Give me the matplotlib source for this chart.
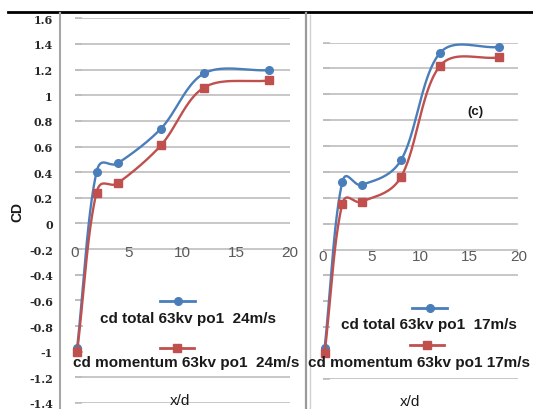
import matplotlib.pyplot as plt
import numpy as np
from matplotlib.lines import Line2D
from matplotlib.patches import Rectangle

# data
x_d = [0.2, 2, 4, 8, 12, 18]
cd_total_24 = [-0.97, 0.40, 0.47, 0.74, 1.17, 1.195]
cd_mom_24 = [-1.0, 0.24, 0.315, 0.61, 1.06, 1.115]
cd_total_17 = [-0.96, 0.32, 0.30, 0.49, 1.32, 1.365]
cd_mom_17 = [-1.0, 0.15, 0.17, 0.36, 1.22, 1.285]

x_ticks = [0, 5, 10, 15, 20]
y_ticks = [1.6, 1.4, 1.2, 1, 0.8, 0.6, 0.4, 0.2, 0, -0.2, -0.4, -0.6,
           -0.8, -1, -1.2, -1.4]
y_tick_labels = ['1.6', '1.4', '1.2', '1', '0.8', '0.6', '0.4', '0.2', '0',
                 '-0.2', '-0.4', '-0.6', '-0.8', '-1', '-1.2', '-1.4']

lab_total_24 = 'cd total 63kv po1  24m/s'
lab_mom_24 = 'cd momentum 63kv po1  24m/s'
lab_total_17 = 'cd total 63kv po1  17m/s'
lab_mom_17 = 'cd momentum 63kv po1 17m/s'

BLUE = '#4A7EBB'
RED = '#C0504D'
GRID = '#BDBDBD'
W, H = 533, 410


def smooth(xs, ys, kx, ky, n=40):
    # smoothed line through the points, worked out in pixel units
    p = np.column_stack([np.asarray(xs) * kx, np.asarray(ys) * ky]).astype(float)
    m = len(p)
    d = np.linalg.norm(np.diff(p, axis=0), axis=1)
    out = []
    for i in range(m - 1):
        p1, p2 = p[i], p[i + 1]
        if i > 0:
            f = 0.5 / 6 + 0.5 * d[i] / (d[i - 1] + d[i]) / 3
            t1 = (p2 - p[i - 1]) * f
        else:
            t1 = (p2 - p1) / 3
        if i < m - 2:
            f = 0.5 / 6 + 0.5 * d[i] / (d[i] + d[i + 1]) / 3
            t2 = (p[i + 2] - p1) * f
        else:
            t2 = (p2 - p1) / 3
        c1 = p1 + t1
        c2 = p2 - t2
        t = np.linspace(0, 1, n)[:, None]
        seg = ((1 - t) ** 3 * p1 + 3 * (1 - t) ** 2 * t * c1
               + 3 * (1 - t) * t ** 2 * c2 + t ** 3 * p2)
        out.append(seg)
    c = np.vstack(out)
    return c[:, 0] / kx, c[:, 1] / ky


def fx(px):
    return px / W


def fy(py):
    return 1 - py / H


plt.rcParams['font.family'] = ['Liberation Sans', 'DejaVu Sans']
fig = plt.figure(figsize=(W / 100, H / 100), dpi=100)

ax1 = fig.add_axes([fx(75), fy(404), (290 - 75) / W, (404 - 19.3) / H])
ax2 = fig.add_axes([fx(322.7), fy(380), (518.3 - 322.7) / W, (380 - 43.5) / H])


def setup(ax, ylo, yhi, xlab_y, box):
    ax.set_xlim(0, 20)
    ax.set_ylim(ylo, yhi)
    for s in ax.spines.values():
        s.set_visible(False)
    ax.set_axisbelow(True)
    ax.set_yticks([v for v in y_ticks if ylo - 1e-9 <= v <= yhi + 1e-9])
    ax.grid(axis='y', color=GRID, lw=1.2)
    ax.set_xticks([])
    ax.tick_params(axis='y', direction='in', length=5, color=GRID, width=1.2)
    for xt in x_ticks:
        ax.text(xt, xlab_y, str(xt), ha='center', va='center', fontsize=11,
                color='#5A5A5A', zorder=1.5)
    ax.add_patch(Rectangle((box[0], box[1]), 25, box[2] - box[1],
                           facecolor='white', edgecolor='none', zorder=1))


setup(ax1, -1.4, 1.6, -0.225, (0.7, -1.14, -0.29))
setup(ax2, -1.2, 1.4, -0.25, (0.7, -1.12, -0.47))

ax1.set_yticklabels(y_tick_labels)
for lbl in ax1.get_yticklabels():
    lbl.set_fontfamily('DejaVu Serif')
    lbl.set_fontweight('bold')
    lbl.set_fontsize(8)
    lbl.set_color('#262626')
ax1.tick_params(axis='y', pad=16)
ax2.set_yticklabels([])

for ax, yt, ym in [(ax1, cd_total_24, cd_mom_24), (ax2, cd_total_17, cd_mom_17)]:
    bb = ax.get_position()
    kx = bb.width * W / 20
    y0, y1 = ax.get_ylim()
    ky = bb.height * H / (y1 - y0)
    sx, sy = smooth(x_d, yt, kx, ky)
    ax.plot(sx, sy, color=BLUE, lw=1.7, zorder=3, clip_on=False)
    ax.plot(x_d, yt, 'o', color=BLUE, ms=5.5, zorder=3, clip_on=False)
    sx, sy = smooth(x_d, ym, kx, ky)
    ax.plot(sx, sy, color=RED, lw=1.7, zorder=4, clip_on=False)
    ax.plot(x_d, ym, 's', color=RED, ms=5.5, zorder=4, clip_on=False)


# legends drawn excel style: sample above text
def legend_entry(x0, x1, y, color, marker, tx, ty, text, ha='center'):
    fig.add_artist(Line2D([fx(x0), fx(x1)], [fy(y), fy(y)], color=color, lw=2))
    fig.add_artist(Line2D([fx((x0 + x1) / 2)], [fy(y)], color=color,
                          marker=marker, ms=5.5))
    fig.text(fx(tx), fy(ty), text, ha=ha, va='center', fontsize=11,
             fontweight='bold', color='#1A1A1A')


legend_entry(160, 195, 302, BLUE, 'o', 188, 319, lab_total_24)
legend_entry(160, 194, 349, RED, 's', 73, 363, lab_mom_24, ha='left')
legend_entry(412, 447, 309, BLUE, 'o', 429, 325, lab_total_17)
legend_entry(410, 444, 346, RED, 's', 308, 363, lab_mom_17, ha='left')

fig.text(fx(180), fy(401), 'x/d', ha='center', va='center', fontsize=11,
         color='#1A1A1A')
fig.text(fx(410), fy(402), 'x/d', ha='center', va='center', fontsize=11,
         color='#1A1A1A')
fig.text(fx(17), fy(212), 'CD', ha='center', va='center', rotation=90,
         fontsize=10, fontweight='bold', color='#1A1A1A')
fig.text(fx(475), fy(112), '(c)', ha='center', va='center', fontsize=9.5,
         fontweight='bold', color='#1A1A1A')

# frame lines of the pasted panels
fig.add_artist(Line2D([fx(8), fx(533)], [fy(13), fy(13)], color='black', lw=2))
fig.add_artist(Line2D([fx(60), fx(60)], [fy(14), fy(410)], color='#A6A6A6', lw=1.5))
fig.add_artist(Line2D([fx(305.5), fx(305.5)], [fy(14), fy(410)], color='#9A9A9A', lw=1.6))
fig.add_artist(Line2D([fx(310), fx(310)], [fy(16), fy(410)], color='#D0D0D0', lw=1))

fig.savefig('out.png', dpi=100)
